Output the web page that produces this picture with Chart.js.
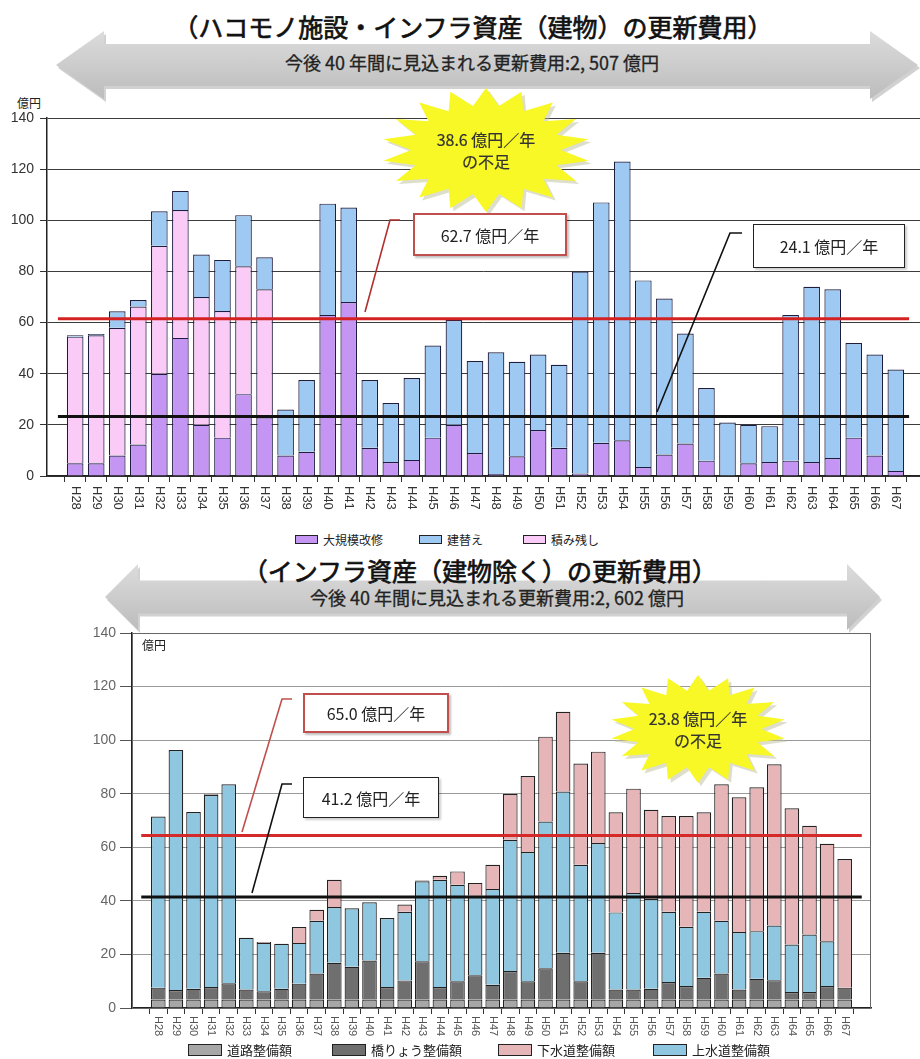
<!DOCTYPE html>
<html lang="ja">
<head>
<meta charset="utf-8">
<title>更新費用の見通し</title>
<script src="https://cdn.jsdelivr.net/npm/chart.js@4.4.1/dist/chart.umd.min.js"></script>
<style>
  html, body { margin: 0; padding: 0; background: #fff; }
  body { width: 920px; height: 1059px; position: relative; overflow: hidden;
         font-family: "Noto Sans CJK JP", "Noto Sans", sans-serif; color: #222; }
  .abs { position: absolute; }
  .chart-box { position: absolute; }
  .title { font-size: 25px; font-weight: 400; -webkit-text-stroke: 0.7px #111; color: #111;
           white-space: nowrap; text-align: center; line-height: 30px; }
  .arrow-text { font-size: 18px; -webkit-text-stroke: 0.3px #222; white-space: nowrap;
                text-align: center; line-height: 22px; color: #222; }
  .unit { font-size: 12px; line-height: 14px; }
  .callout { background: #fff; font-size: 16px; line-height: 20px; display: flex;
             align-items: center; justify-content: center; white-space: nowrap; box-sizing: border-box; }
  .callout.red { border: 2px solid #c0504d; box-shadow: 2px 2px 2px rgba(0,0,0,0.25); }
  .callout.black { border: 1.5px solid #222; box-shadow: 2px 2px 2px rgba(0,0,0,0.2); }
  .burst-text { font-size: 16px; line-height: 22px; text-align: center; white-space: nowrap;
                color: #333; -webkit-text-stroke: 0.2px #333; }
  .legend { display: flex; align-items: center; white-space: nowrap; }
  .legend .item { display: flex; align-items: center; }
  .legend .sw { display: inline-block; box-sizing: border-box; border: 1px solid #222; }
  #overlay { position: absolute; left: 0; top: 0; width: 920px; height: 1059px; pointer-events: none; }
</style>
</head>
<body>

<svg id="arrows" class="abs" width="920" height="1059" style="left:0;top:0;"></svg>

<!-- 上段 見出し -->
<div class="abs title" style="left:0; width:946px; top:11px;">（ハコモノ施設・インフラ資産（建物）の更新費用）</div>
<div class="abs arrow-text" style="left:0; width:944px; top:51px;">今後 40 年間に見込まれる更新費用:2, 507 億円</div>
<div class="abs unit" style="left:17px; top:96px;">億円</div>

<div class="chart-box" style="left:0; top:85px; width:920px; height:436px;"><canvas id="bldChart"></canvas></div>
<div id="bldLegend" class="abs legend" style="left:295px; top:531px; font-size:12px;"></div>

<!-- 下段 見出し -->
<div class="abs title" style="left:0; width:960px; top:555px;">（インフラ資産（建物除く）の更新費用）</div>
<div class="abs arrow-text" style="left:0; width:994px; top:586px;">今後 40 年間に見込まれる更新費用:2, 602 億円</div>

<div class="chart-box" style="left:0; top:610px; width:880px; height:433px;"><canvas id="infChart"></canvas></div>
<div class="abs unit" style="left:142px; top:638px;">億円</div>
<div id="infLegend" class="abs legend" style="left:188px; top:1040px; font-size:13px;"></div>

<svg id="overlay"></svg>

<!-- 注記 -->
<div class="abs callout red" style="left:413px; top:213px; width:154px; height:43px;">62.7 億円／年</div>
<div class="abs callout black" style="left:753px; top:224px; width:152px; height:44px;">24.1 億円／年</div>
<div class="abs burst-text" style="left:386px; width:200px; top:128px;">38.6 億円／年<br>の不足</div>

<div class="abs callout red" style="left:303px; top:693px; width:146px; height:40px;">65.0 億円／年</div>
<div class="abs callout black" style="left:303px; top:777px; width:136px; height:41px;">41.2 億円／年</div>
<div class="abs burst-text" style="left:598px; width:200px; top:707px;">23.8 億円／年<br>の不足</div>

<script>
"use strict";

// ---- 年度 ----
const YEARS = [
  "H28","H29","H30","H31","H32","H33","H34","H35","H36","H37",
  "H38","H39","H40","H41","H42","H43","H44","H45","H46","H47",
  "H48","H49","H50","H51","H52","H53","H54","H55","H56","H57",
  "H58","H59","H60","H61","H62","H63","H64","H65","H66","H67",
];

// ---- 上段：ハコモノ施設・インフラ資産（建物）億円 ----
const BLD_MAJOR = [   // 大規模改修
  5, 5, 8, 12.3, 40, 54, 20, 15, 32, 23,
  8, 9.5, 63, 68, 11, 5.5, 6.3, 15, 20, 9,
  0.8, 7.7, 18, 11, 1, 13, 14, 3.5, 8.4, 12.7,
  6, 0, 5, 5.5, 6, 5.5, 7, 15, 8, 2,
];
const BLD_BACKLOG = [ // 積み残し
  49.5, 50, 50, 54, 50, 50, 50, 49.5, 50, 50,
  0, 0, 0, 0, 0, 0, 0, 0, 0, 0,
  0, 0, 0, 0, 0, 0, 0, 0, 0, 0,
  0, 0, 0, 0, 0, 0, 0, 0, 0, 0,
];
const BLD_REBUILD = [ // 建替え
  0.5, 0.5, 6.4, 2.5, 13.5, 7.5, 16.6, 20, 20, 12.5,
  18, 28, 43.5, 37, 26.5, 23, 32, 36, 41, 36,
  47.6, 37, 29.5, 32.5, 79, 94, 109, 73, 61, 43,
  28.4, 20.9, 15, 14, 57, 68.5, 66, 37, 39.5, 39.6,
];
const BLD_NEED_LINE = 61.5;    // 62.7億円／年
const BLD_BUDGET_LINE = 23.3;  // 24.1億円／年

// ---- 下段：インフラ資産（建物除く）億円 ----
const INF_ROAD = [    // 道路整備額
  3.2, 3.2, 3.2, 3.2, 3.2, 3.2, 3.2, 3.2, 3.2, 3.2,
  3.2, 3.2, 3.2, 3.2, 3.2, 3.2, 3.2, 3.2, 3.2, 3.2,
  3.2, 3.2, 3.2, 3.2, 3.2, 3.2, 3.2, 3.2, 3.2, 3.2,
  3.2, 3.2, 3.2, 3.2, 3.2, 3.2, 3.2, 3.2, 3.2, 3.2,
];
const INF_BRIDGE = [  // 橋りょう整備額
  4.4, 3.5, 4, 4.6, 6, 3.7, 3.1, 4, 5.9, 9.7,
  13.7, 12.2, 14.5, 4.6, 7.1, 14.3, 4.6, 6.8, 9, 5.5,
  10.6, 6.8, 11.6, 17.4, 6.8, 17.4, 3.7, 3.7, 4, 6.5,
  5, 8.1, 9.7, 3.7, 7.7, 7.2, 2.8, 2.8, 5, 4.4,
];
const INF_WATER = [   // 上水道整備額
  63.9, 89.6, 66, 71.7, 74.3, 19.3, 18, 16.8, 15.2, 19.7,
  20.8, 21.8, 21.8, 25.8, 25.6, 29.8, 40.1, 36, 29.7, 35.7,
  49, 48.2, 54.8, 60.2, 43.5, 41, 28.8, 36, 33.5, 26.2,
  22.1, 24.6, 19.7, 21.5, 17.8, 20.4, 17.7, 21.4, 16.7, 0,
];
const INF_SEWER = [   // 下水道整備額
  0, 0, 0, 0.3, 0, 0, 0.3, 0, 5.9, 4.1,
  10.2, 0, 0, 0, 2.7, 0.3, 1.5, 5, 4.8, 9.1,
  17.1, 28.4, 31.7, 29.8, 37.8, 34.1, 37.4, 39, 33.3, 35.8,
  41.4, 37.2, 50.9, 50.3, 53.7, 60.2, 50.9, 40.6, 36.4, 48,
];
const INF_NEED_LINE = 64.4;    // 65.0億円／年
const INF_BUDGET_LINE = 41.4;  // 41.2億円／年

const Y_MAX = 140;
const Y_STEP = 20;

// 横軸の回転ラベル（上から下へ読む向き）
const xLabelPlugin = {
  id: "xLabels",
  afterDraw(chart, args, opts) {
    const ctx = chart.ctx, sx = chart.scales.x;
    ctx.save();
    ctx.font = opts.font;
    ctx.fillStyle = opts.color;
    ctx.textAlign = "left";
    ctx.textBaseline = "middle";
    opts.labels.forEach((lab, i) => {
      ctx.save();
      ctx.translate(sx.getPixelForValue(i), sx.top + opts.offset);
      ctx.rotate(Math.PI / 2);
      ctx.fillText(lab, 0, 0);
      ctx.restore();
    });
    ctx.restore();
  },
};

// 下段のプロット枠
const framePlugin = {
  id: "frame",
  afterDraw(chart, args, opts) {
    if (!opts.enabled) return;
    const { ctx, chartArea: a } = chart;
    ctx.save();
    ctx.strokeStyle = opts.color;
    ctx.lineWidth = 1;
    ctx.strokeRect(a.left + 0.5, a.top + 0.5, a.right - a.left - 1, a.bottom - a.top);
    ctx.restore();
  },
};

function stackChart(canvasId, series, refLines, o) {
  const ctx = document.getElementById(canvasId).getContext("2d");
  const datasets = series.map(s => ({
    type: "bar",
    label: s.label,
    data: s.data.map((v, i) => ({ x: i, y: v })),
    backgroundColor: s.color,
    borderColor: o.barBorder,
    borderWidth: 1.2,
    barPercentage: 1,
    categoryPercentage: o.barFrac,
    stack: "main",
    order: 1,
  }));
  refLines.forEach((r, k) => datasets.push({
    type: "line",
    label: r.label,
    isRef: true,
    data: [{ x: o.xMin, y: r.value }, { x: o.xMax, y: r.value }],
    borderColor: r.color,
    borderWidth: 3,
    pointRadius: 0,
    fill: false,
    stack: "ref" + k,
    order: 0,
  }));

  return new Chart(ctx, {
    data: { datasets },
    plugins: [xLabelPlugin, framePlugin],
    options: {
      responsive: true,
      maintainAspectRatio: false,
      animation: false,
      layout: { padding: o.padding },
      plugins: {
        legend: { display: false },
        tooltip: { enabled: false },
        xLabels: { labels: YEARS, font: o.xFont, color: o.xColor, offset: o.xLabelOffset },
        frame: { enabled: o.frame, color: "#666" },
      },
      scales: {
        x: {
          type: "linear",
          min: o.xMin, max: o.xMax,
          stacked: true,
          ticks: { stepSize: 1, includeBounds: false, autoSkip: false, maxRotation: 0, callback: () => "" },
          grid: { drawOnChartArea: false, drawTicks: true, tickLength: 6, color: "#333", lineWidth: 1 },
          border: { display: true, color: "#222", width: 1.5 },
          afterFit: s => { s.height = o.xAxisHeight; },
        },
        y: {
          min: 0, max: Y_MAX,
          stacked: true,
          ticks: { stepSize: Y_STEP, color: o.yColor, padding: o.yPad,
                   font: { family: "Liberation Sans, Arial, sans-serif", size: 14 } },
          grid: { color: o.gridColor, lineWidth: 1, drawTicks: true, tickLength: o.yTick, tickColor: o.tickColor },
          border: { display: true, color: "#222", width: 1.5 },
          afterFit: s => { s.width = o.yAxisWidth; },
        },
      },
    },
  });
}

function buildLegend(chart, elId, order, box, gap) {
  const el = document.getElementById(elId);
  const items = chart.data.datasets.filter(d => !d.isRef);
  order.forEach((label, n) => {
    const ds = items.find(d => d.label === label);
    const item = document.createElement("span");
    item.className = "item";
    item.style.marginLeft = n ? gap[n - 1] + "px" : "0";
    const sw = document.createElement("span");
    sw.className = "sw";
    sw.style.width = box[0] + "px";
    sw.style.height = box[1] + "px";
    sw.style.background = ds.backgroundColor;
    sw.style.marginRight = "5px";
    item.appendChild(sw);
    item.appendChild(document.createTextNode(ds.label));
    el.appendChild(item);
  });
}

const bldChart = stackChart("bldChart", [
  { label: "大規模改修", data: BLD_MAJOR,   color: "#c495f2" },
  { label: "積み残し",   data: BLD_BACKLOG, color: "#f9cbf6" },
  { label: "建替え",     data: BLD_REBUILD, color: "#9ec9f2" },
], [
  { label: "62.7億円／年", value: BLD_NEED_LINE,   color: "#d42222" },
  { label: "24.1億円／年", value: BLD_BUDGET_LINE, color: "#111111" },
], {
  xMin: -0.82, xMax: 39.63, barFrac: 0.79, barBorder: "#1d1d40",
  padding: { top: 33, right: 0, bottom: 0, left: 0 },
  xAxisHeight: 45, yAxisWidth: 47, yTick: 7, yPad: 6,
  gridColor: "#3c3c3c", tickColor: "#333", yColor: "#333",
  xFont: "13px 'Liberation Sans', Arial, sans-serif", xColor: "#333", xLabelOffset: 10,
  frame: false,
});
buildLegend(bldChart, "bldLegend", ["大規模改修", "建替え", "積み残し"], [23, 9], [36, 40]);

const infChart = stackChart("infChart", [
  { label: "道路整備額",     data: INF_ROAD,   color: "#a7a7a7" },
  { label: "橋りょう整備額", data: INF_BRIDGE, color: "#6f6f6f" },
  { label: "上水道整備額",   data: INF_WATER,  color: "#8ec7df" },
  { label: "下水道整備額",   data: INF_SEWER,  color: "#e6b5b8" },
], [
  { label: "65.0億円／年", value: INF_NEED_LINE,   color: "#d42a2a" },
  { label: "41.2億円／年", value: INF_BUDGET_LINE, color: "#111111" },
], {
  xMin: -0.97, xMax: 39.97, barFrac: 0.83, barBorder: "#222",
  padding: { top: 23, right: 9, bottom: 0, left: 0 },
  xAxisHeight: 35, yAxisWidth: 132, yTick: 12, yPad: 4,
  gridColor: "#9a9a9a", tickColor: "#555", yColor: "#666",
  xFont: "11px 'Liberation Sans', Arial, sans-serif", xColor: "#555", xLabelOffset: 8,
  frame: true,
});
buildLegend(infChart, "infLegend", ["道路整備額", "橋りょう整備額", "下水道整備額", "上水道整備額"], [34, 12], [40, 36, 38]);

// ---- 装飾：両矢印・吹き出し線・星形 ----
function doubleArrow(x1, x2, cy, body, head, headLen) {
  const p = [
    [x1, cy], [x1 + headLen, cy - head], [x1 + headLen, cy - body],
    [x2 - headLen, cy - body], [x2 - headLen, cy - head], [x2, cy],
    [x2 - headLen, cy + head], [x2 - headLen, cy + body],
    [x1 + headLen, cy + body], [x1 + headLen, cy + head],
  ];
  return p.map(q => q.join(",")).join(" ");
}

function starPoints(cx, cy, rx, ry, n, inner) {
  const pts = [];
  for (let k = 0; k < n * 2; k++) {
    const a = Math.PI * k / n - Math.PI / 2;
    const r = k % 2 ? inner : 1;
    pts.push((cx + Math.cos(a) * rx * r).toFixed(1) + "," + (cy + Math.sin(a) * ry * r).toFixed(1));
  }
  return pts.join(" ");
}

const NS = "http://www.w3.org/2000/svg";
function svgEl(parent, tag, attrs) {
  const e = document.createElementNS(NS, tag);
  Object.entries(attrs).forEach(([k, v]) => e.setAttribute(k, v));
  parent.appendChild(e);
  return e;
}

const arrows = document.getElementById("arrows");
const defs = svgEl(arrows, "defs", {});
const grad = svgEl(defs, "linearGradient", { id: "ag", x1: "0", y1: "0", x2: "0", y2: "1" });
svgEl(grad, "stop", { offset: "0", "stop-color": "#dcdcdc" });
svgEl(grad, "stop", { offset: "1", "stop-color": "#bcbcbc" });
[
  doubleArrow(56, 918, 65, 21, 34, 48),
  doubleArrow(105, 880, 597, 16.5, 33, 33),
].forEach(pts => {
  svgEl(arrows, "polygon", { points: pts, fill: "#9a9a9a", opacity: "0.45", transform: "translate(2,3)" });
  svgEl(arrows, "polygon", { points: pts, fill: "url(#ag)" });
});

const ov = document.getElementById("overlay");
// 星形
[[486, 150, 104, 62], [698, 729, 88, 54]].forEach(([cx, cy, rx, ry]) => {
  svgEl(ov, "polygon", { points: starPoints(cx + 3, cy + 3, rx, ry, 18, 0.72), fill: "#bdbd9a", opacity: "0.5" });
  svgEl(ov, "polygon", { points: starPoints(cx, cy, rx, ry, 18, 0.72), fill: "#f8f826" });
});
// 引出線
[
  { pts: "400,220 390,220 365,312", c: "#b0302e" },
  { pts: "742,233 730,233 657,412", c: "#111" },
  { pts: "292,699 282,699 242,832", c: "#c0504d" },
  { pts: "292,784 282,784 252,893", c: "#111" },
].forEach(l => svgEl(ov, "polyline", { points: l.pts, fill: "none", stroke: l.c, "stroke-width": 1.6 }));
</script>
</body>
</html>
